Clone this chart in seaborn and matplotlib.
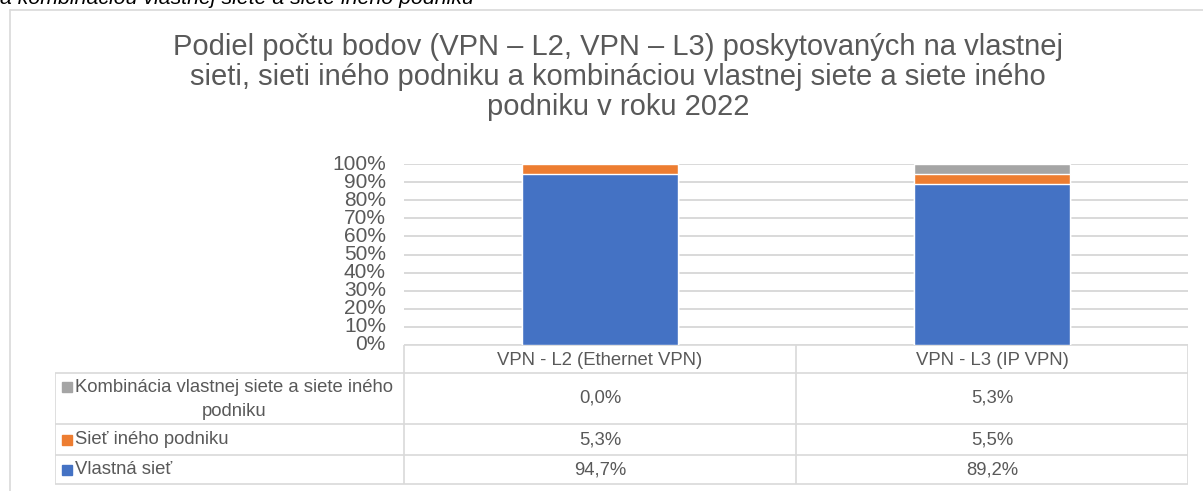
import numpy as np
import pandas as pd
import matplotlib
matplotlib.use("Agg")
import matplotlib.pyplot as plt
import seaborn as sns

# data
categories = ["VPN - L2 (Ethernet VPN)", "VPN - L3 (IP VPN)"]
vlastna = [94.7, 89.2]
iny_podnik = [5.3, 5.5]
kombinacia = [0.0, 5.3]
series_names = ["Kombinácia vlastnej siete a siete iného\npodniku",
                "Sieť iného podniku",
                "Vlastná sieť"]
y_ticks = list(range(0, 101, 10))

title = ("Podiel počtu bodov (VPN – L2, VPN – L3) poskytovaných na vlastnej\n"
         "sieti, sieti iného podniku a kombináciou vlastnej siete a siete iného\n"
         "podniku v roku 2022")
caption = "a kombináciou vlastnej siete a siete iného podniku"

BLUE, ORANGE, GRAY = "#4472C4", "#ED7D31", "#A5A5A5"
TXT = "#595959"
LINE = "#D9D9D9"

sns.set_theme(style="white")
plt.rcParams["font.family"] = ["Liberation Sans", "DejaVu Sans"]

W, H = 1203, 491
fig = plt.figure(figsize=(W / 100, H / 100), dpi=100)


def px_box(x0, y0, x1, y1):
    # pixel box (top-left origin) -> figure fraction rect
    return [x0 / W, 1 - y1 / H, (x1 - x0) / W, (y1 - y0) / H]


# outer frame and clipped caption
fig.add_artist(plt.Line2D([10 / W, 10 / W], [0, 1 - 10 / H], transform=fig.transFigure,
                          color=LINE, lw=1.2))
fig.add_artist(plt.Line2D([10 / W, 1], [1 - 10 / H, 1 - 10 / H], transform=fig.transFigure,
                          color=LINE, lw=1.2))
fig.text(0, 1 - 4 / H, caption, fontsize=15.3, style="italic", color="black",
         ha="left", va="baseline")

fig.text(618 / W, 1 - 33 / H, title, fontsize=21, color=TXT, ha="center", va="top",
         linespacing=1.1)

# stacked bars
df = pd.DataFrame({"kat": categories,
                   "vlastna": vlastna,
                   "iny": iny_podnik,
                   "komb": kombinacia})
df["top2"] = df["vlastna"] + df["iny"]
df["top3"] = df["top2"] + df["komb"]

ax = fig.add_axes(px_box(404, 164, 1188, 345))
sns.barplot(data=df, x="kat", y="top3", color=GRAY, width=0.4, saturation=1, ax=ax)
sns.barplot(data=df, x="kat", y="top2", color=ORANGE, width=0.4, saturation=1, ax=ax)
sns.barplot(data=df, x="kat", y="vlastna", color=BLUE, width=0.4, saturation=1, ax=ax)
ax.set_xlim(-0.5, 1.5)
ax.set_ylim(0, 100)
ax.set_yticks(y_ticks)
ax.set_yticklabels([f"{t}%" for t in y_ticks], fontsize=15, color=TXT)
ax.set_xticks([])
ax.set_xlabel("")
ax.set_ylabel("")
ax.tick_params(axis="y", length=0, pad=13)
for s in ax.spines.values():
    s.set_visible(False)
ax.yaxis.grid(True, color=LINE, lw=1.4)
ax.set_axisbelow(True)
for lbl in ax.get_yticklabels():
    lbl.set_verticalalignment("center")

# data table under the chart
tab = fig.add_axes(px_box(55, 345, 1188, 485))
left = -0.5 - 349 / 392
tab.set_xlim(left, 1.5)
tab.set_ylim(485, 345)
tab.axis("off")
lw = 1.2
fs = 13.3
rows = [373, 424, 455, 484]
tab.hlines(345, -0.5, 1.5, color=LINE, lw=lw)
tab.hlines(rows, left, 1.5, color=LINE, lw=lw)
tab.vlines(left, 373, 484, color=LINE, lw=lw)
tab.vlines([-0.5, 0.5, 1.5], 345, 484, color=LINE, lw=lw)

for i, c in enumerate(categories):
    tab.text(i, 360, c, ha="center", va="center", fontsize=fs, color=TXT)

row_vals = [kombinacia, iny_podnik, vlastna]
row_cols = [GRAY, ORANGE, BLUE]
row_centers = [398, 439.5, 469.5]
x_mark = left + 12 / 392
x_text = left + 20 / 392
for name, vals, col, yc in zip(series_names, row_vals, row_cols, row_centers):
    for i, v in enumerate(vals):
        tab.text(i, yc, f"{v:.1f}%".replace(".", ","), ha="center", va="center",
                 fontsize=fs, color=TXT)
    lines = name.split("\n")
    if len(lines) == 2:
        tab.plot([x_mark], [387], marker="s", ms=6.5, color=col, mec=col)
        tab.text(x_text, 387, lines[0], ha="left", va="center", fontsize=fs, color=TXT)
        tab.text((left - 0.5) / 2 + 5 / 392, 411, lines[1], ha="center", va="center",
                 fontsize=fs, color=TXT)
    else:
        tab.plot([x_mark], [yc], marker="s", ms=6.5, color=col, mec=col)
        tab.text(x_text, yc, name, ha="left", va="center", fontsize=fs, color=TXT)

fig.savefig("out.png", dpi=100)
